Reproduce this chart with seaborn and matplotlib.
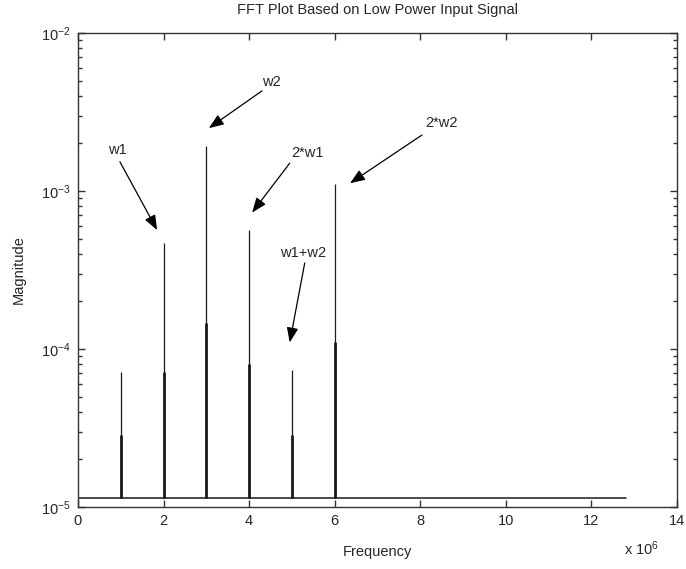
import matplotlib
matplotlib.use('Agg')
import matplotlib.pyplot as plt
import numpy as np
import pandas as pd
import seaborn as sns

# Spectrum (frequency in units of 1e6)
peak_freq = [1, 2, 3, 4, 5, 6]
peak_mag = [7.2e-5, 4.7e-4, 1.94e-3, 5.7e-4, 7.4e-5, 1.1e-3]     # tall, thin lines
side_mag = [2.86e-5, 7.2e-5, 1.47e-4, 8.0e-5, 2.86e-5, 1.1e-4]   # short, thick lines
noise_floor = 1.14e-5
freq_span = [0, 12.8]

# Annotation labels
labels = ['w1', 'w2', '2*w1', 'w1+w2', '2*w2']

sns.set_style('white')
plt.rcParams['font.family'] = ['Liberation Sans', 'DejaVu Sans']
plt.rcParams['mathtext.fontset'] = 'custom'
plt.rcParams['mathtext.rm'] = 'Liberation Sans'
plt.rcParams['mathtext.it'] = 'Liberation Sans'
plt.rcParams['xtick.bottom'] = True
plt.rcParams['xtick.top'] = True
plt.rcParams['ytick.left'] = True
plt.rcParams['ytick.right'] = True
plt.rcParams['xtick.direction'] = 'in'
plt.rcParams['ytick.direction'] = 'in'

fig = plt.figure(figsize=(6.86, 5.69), dpi=100)
ax = fig.add_axes([0.1137, 0.109, 0.873, 0.833])

df = pd.DataFrame({'freq': peak_freq, 'peak': peak_mag, 'side': side_mag})
base = pd.DataFrame({'freq': freq_span, 'mag': [noise_floor, noise_floor]})

sns.lineplot(data=base, x='freq', y='mag', color='#1a1a1a', lw=1.1, ax=ax)
ax.vlines(df['freq'], noise_floor, df['peak'], color='#1a1a1a', lw=0.9)
ax.vlines(df['freq'], noise_floor, df['side'], color='#1a1a1a', lw=2.0)

ax.set_yscale('log')
ax.set_xlim(0, 14)
ax.set_ylim(1e-5, 1e-2)
ax.set_xticks(np.arange(0, 15, 2))
ax.set_xticklabels([str(v) for v in range(0, 15, 2)])

for s in ax.spines.values():
    s.set_color('#333333')
    s.set_linewidth(1.0)
ax.tick_params(which='both', direction='in', top=True, right=True, left=True,
               bottom=True, color='#333333', labelsize=10.5, pad=5)
ax.tick_params(which='major', length=5, width=1)
ax.tick_params(which='minor', length=3, width=1)
ax.yaxis.set_tick_params(which='minor', left=True, right=True)
ax.tick_params(axis='x', which='minor', bottom=False, top=False)

ax.set_xlabel('Frequency', fontsize=10.5, labelpad=12)
ax.set_ylabel('Magnitude', fontsize=10.5, labelpad=11)
ax.set_title('FFT Plot Based on Low Power Input Signal', fontsize=10.5, pad=14)
fig.text(0.935, 0.025, r'x 10$^{6}$', fontsize=10.5, ha='center')

ann = {
    'w1': ((0.93, 1.82e-3), (0.98, 1.53e-3), (1.85, 5.66e-4)),
    'w2': ((4.53, 4.9e-3), (4.30, 4.3e-3), (3.06, 2.5e-3)),
    '2*w1': ((5.37, 1.74e-3), (4.95, 1.5e-3), (4.07, 7.3e-4)),
    'w1+w2': ((5.26, 4.06e-4), (5.30, 3.5e-4), (4.95, 1.1e-4)),
    '2*w2': ((8.50, 2.7e-3), (8.04, 2.26e-3), (6.36, 1.12e-3)),
}
for name in labels:
    tpos, tail, tip = ann[name]
    ax.text(tpos[0], tpos[1], name, fontsize=10.5, ha='center', va='center')
    ax.annotate('', xy=tip, xytext=tail,
                arrowprops=dict(arrowstyle='-|>,head_length=0.9,head_width=0.35',
                                color='black', lw=0.9, shrinkA=0, shrinkB=0))

fig.savefig('out.png', dpi=100)
